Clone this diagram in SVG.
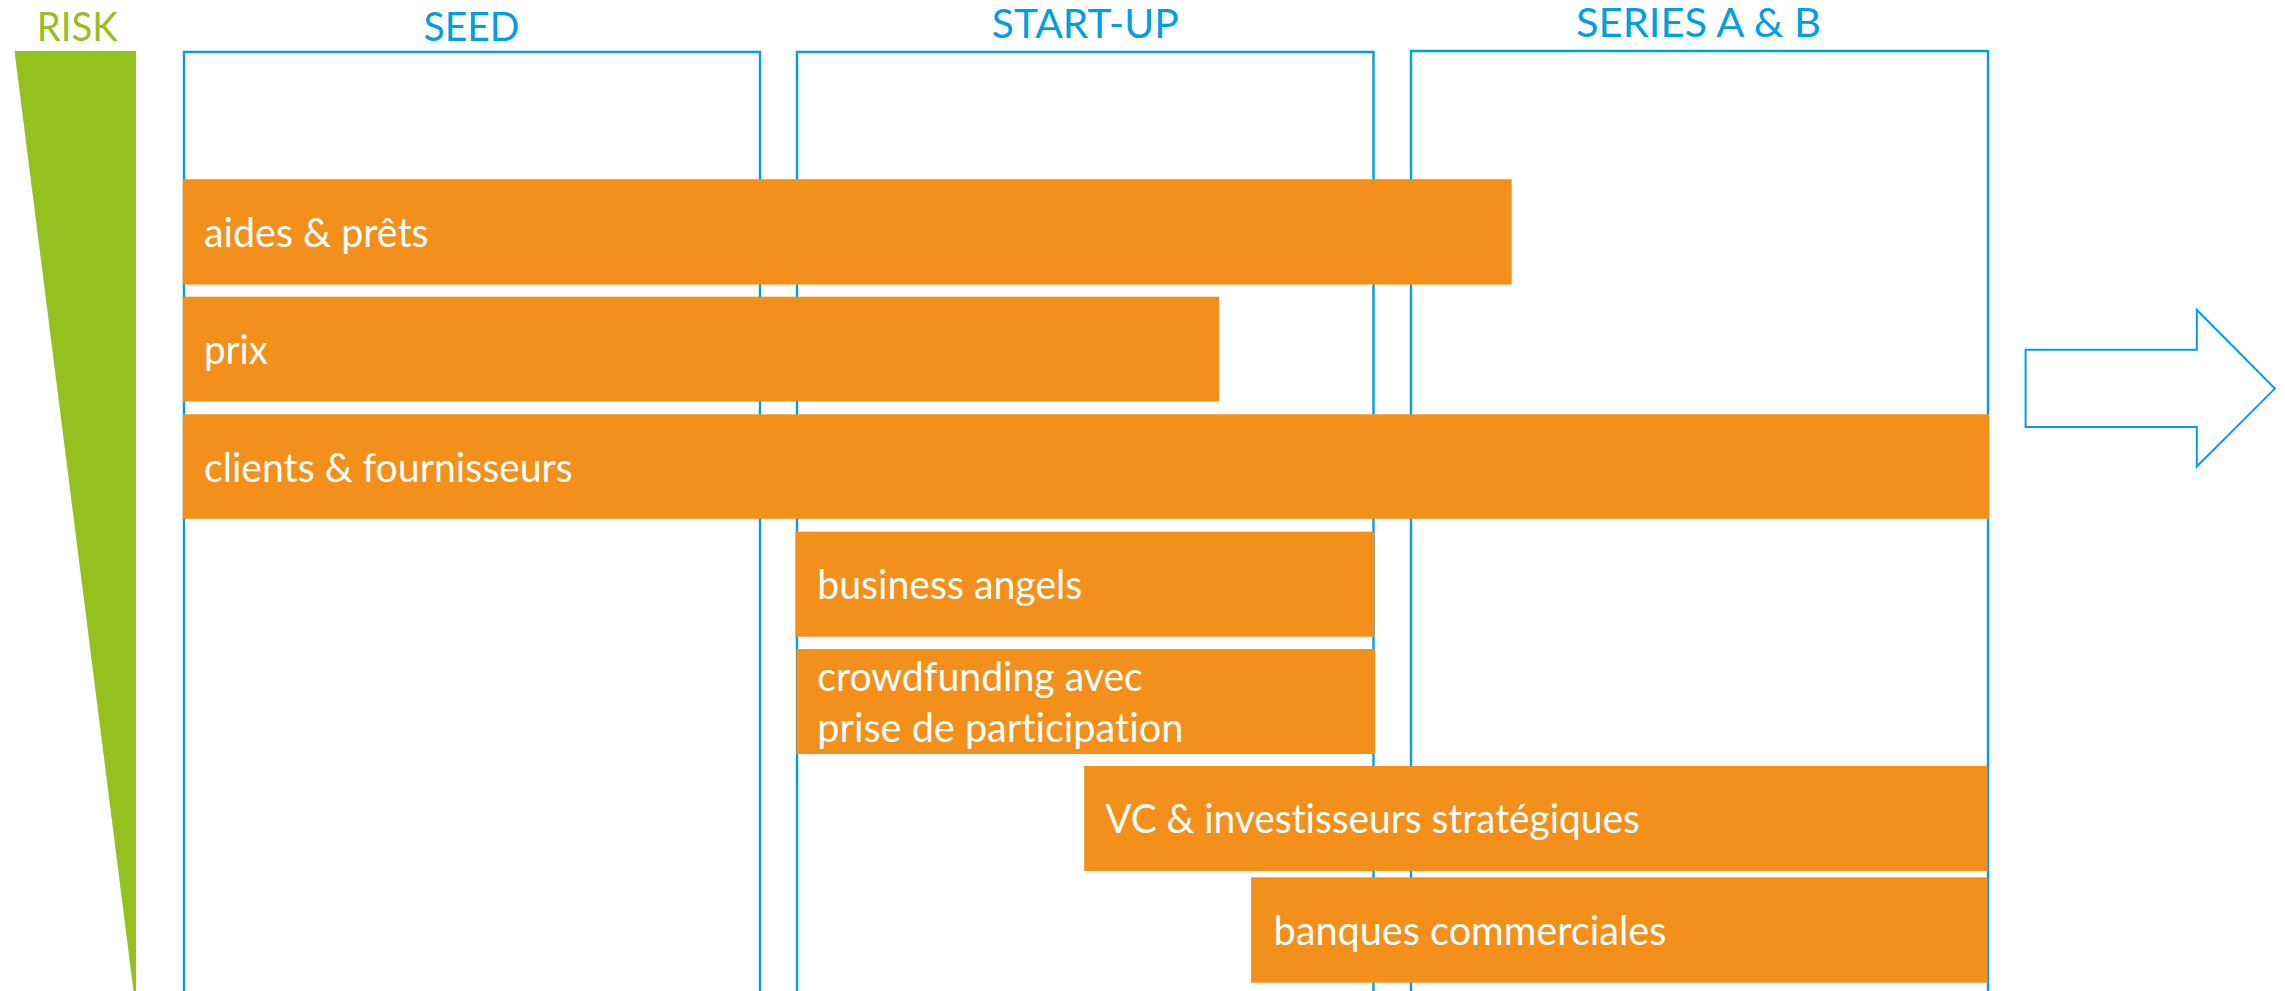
<svg xmlns="http://www.w3.org/2000/svg" width="2285" height="991" viewBox="0 0 2285 991">
<style>
.bg{fill:#ffffff}
.phase{fill:none;stroke:#009FE3;stroke-width:2.4}
.title{font-family:Lato,"Open Sans","Liberation Sans",sans-serif;font-size:41px;fill:#009FE3}
.risk{font-family:Lato,"Open Sans","Liberation Sans",sans-serif;font-size:41px;fill:#95C11F}
.bar{fill:#F3901C}
.lbl{font-family:Lato,"Open Sans","Liberation Sans",sans-serif;font-size:40px;fill:#ffffff;font-variant-ligatures:none}
</style>
<rect class="bg" x="0" y="0" width="2285" height="991"/>
<g id="risk">
  <polygon points="14.5,51 136,51 136,991 133.5,991" fill="#95C11F"/>
  <text class="risk" x="36.7" y="40.7" textLength="81" lengthAdjust="spacingAndGlyphs">RISK</text>
</g>
<g id="phase-seed">
  <path class="phase" d="M184,991 V52 H760 V991"/>
  <text class="title" x="423.5" y="40.7" textLength="96" lengthAdjust="spacingAndGlyphs">SEED</text>
</g>
<g id="phase-startup">
  <path class="phase" d="M797,991 V52 H1373.5 V991"/>
  <text class="title" x="991.8" y="38.3" textLength="187" lengthAdjust="spacingAndGlyphs">START-UP</text>
</g>
<g id="phase-series">
  <path class="phase" d="M1411,991 V51 H1988 V991"/>
  <text class="title" x="1576" y="36.8" textLength="245" lengthAdjust="spacingAndGlyphs">SERIES A &amp; B</text>
</g>
<g id="bar-aides">
  <rect class="bar" x="182.7" y="179.2" width="1329" height="105.4"/>
  <text class="lbl" x="204" y="246.7" textLength="224.6" lengthAdjust="spacingAndGlyphs">aides &amp; prêts</text>
</g>
<g id="bar-prix">
  <rect class="bar" x="182.7" y="296.7" width="1036.5" height="104.8"/>
  <text class="lbl" x="204" y="364.3" textLength="64" lengthAdjust="spacingAndGlyphs">prix</text>
</g>
<g id="bar-clients">
  <rect class="bar" x="182.7" y="414.3" width="1806.3" height="104.5"/>
  <text class="lbl" x="204" y="481.6" textLength="368.7" lengthAdjust="spacingAndGlyphs">clients &amp; fournisseurs</text>
</g>
<g id="bar-business-angels">
  <rect class="bar" x="795.4" y="531.7" width="579.1" height="105"/>
  <text class="lbl" x="817.3" y="599" textLength="265" lengthAdjust="spacingAndGlyphs">business angels</text>
</g>
<g id="bar-crowdfunding">
  <rect class="bar" x="796.4" y="649" width="578.8" height="105"/>
  <text class="lbl" x="817.3" y="690.7" textLength="325.5" lengthAdjust="spacingAndGlyphs">crowdfunding avec</text>
  <text class="lbl" x="817.3" y="741.7" textLength="366" lengthAdjust="spacingAndGlyphs">prise de participation</text>
</g>
<g id="bar-vc">
  <rect class="bar" x="1084.2" y="766" width="903.3" height="105"/>
  <text class="lbl" x="1105.2" y="833.3" textLength="534.6" lengthAdjust="spacingAndGlyphs">VC &amp; investisseurs stratégiques</text>
</g>
<g id="bar-banques">
  <rect class="bar" x="1251.1" y="877.3" width="736.4" height="105.4"/>
  <text class="lbl" x="1273.6" y="945" textLength="392.8" lengthAdjust="spacingAndGlyphs">banques commerciales</text>
</g>
<g id="arrow">
  <polygon points="2025.6,349.8 2196.8,349.8 2196.8,310 2274.9,388.6 2196.8,466.5 2196.8,427 2025.6,427" fill="#ffffff" stroke="#009FE3" stroke-width="2"/>
</g>
<g id="connectors"></g>
</svg>
